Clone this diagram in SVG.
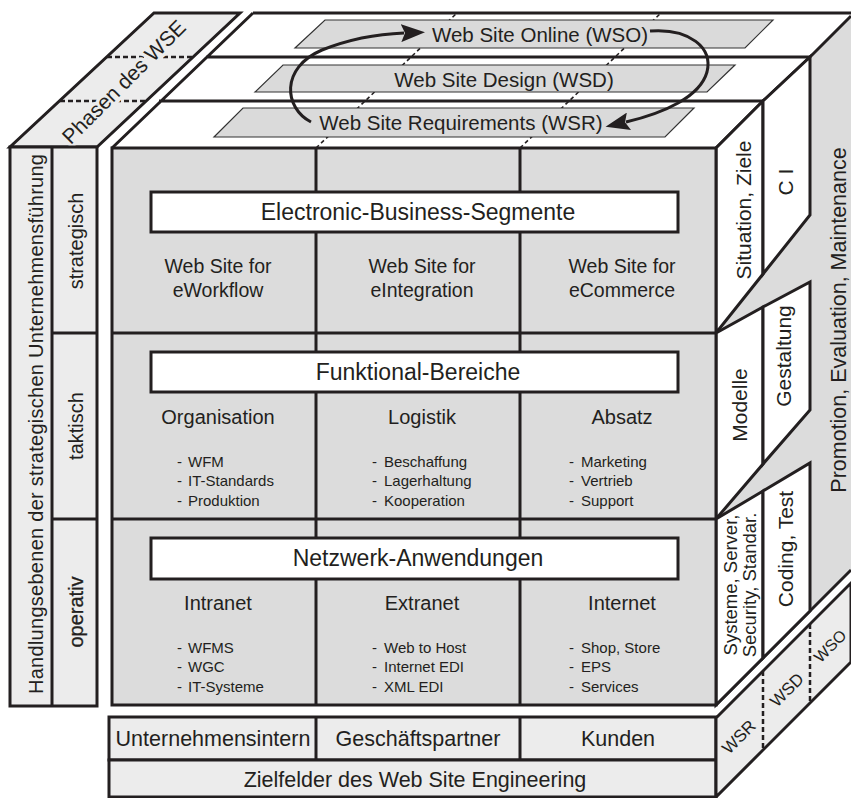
<svg xmlns="http://www.w3.org/2000/svg" width="851" height="798" viewBox="0 0 851 798">
<defs>
<style>
.ln{stroke:#231f20;stroke-width:3;fill:none}
.face{fill:#dcdcdc;stroke:#231f20;stroke-width:3}
.lite{fill:#ececec;stroke:#231f20;stroke-width:3}
.wht{fill:#fff;stroke:#231f20;stroke-width:3}
.plane{fill:#dadada;stroke:#333;stroke-width:1.2}
.dash{stroke:#231f20;stroke-width:1.6;stroke-dasharray:4 3;fill:none}
.bdash{stroke:#231f20;stroke-width:2.5;stroke-dasharray:5 3;fill:none}
text{font-family:"Liberation Sans",Arial,sans-serif;fill:#231f20}
.t23{font-size:23px;text-anchor:middle}
.t20{font-size:20px;text-anchor:middle}
.t19{font-size:19.5px;text-anchor:middle}
.t15{font-size:15px}
.t21{font-size:21px;text-anchor:middle}
.pl{font-size:20.5px;text-anchor:middle}
.halo{paint-order:stroke;stroke:#ececec;stroke-width:7px}
</style>
<marker id="ah" markerUnits="userSpaceOnUse" markerWidth="24" markerHeight="18" viewBox="0 0 24 18" refX="3" refY="9" orient="auto">
<path d="M0,0 L24,9 L0,18 L4,9 z" fill="#231f20"/>
</marker>
</defs>

<g id="top-face">
<path class="dash" d="M316,148 L457,13 M520,148 L661,13"/>
<path class="ln" d="M112,148 L253,13 M159,101 L763,101 M206,57 L810,57 M253,13 L851,13"/>
</g>

<g id="plane-wso"><polygon class="plane" points="325,20 773,20 745,48 295,48"/><text class="pl" x="540" y="42">Web Site Online (WSO)</text></g>
<g id="plane-wsd"><polygon class="plane" points="283,65 735,65 707,92 255,92"/><text class="pl" x="504" y="87">Web Site Design (WSD)</text></g>
<g id="plane-wsr"><polygon class="plane" points="243,108 694,108 665,137 214,137"/><text class="pl" x="461" y="130">Web Site Requirements (WSR)</text></g>

<g id="phasen">
<polygon class="lite" points="10,147 97,147 240,13 154,13"/>
<path class="bdash" d="M60,101 L146,101 M107,57 L193,57"/>
<text class="halo" style="font-size:21px;text-anchor:middle" transform="translate(129,87) rotate(-45)">Phasen des WSE</text>
</g>

<g id="handlungsebenen">
<rect class="lite" x="10" y="147" width="87" height="559"/>
<path class="ln" d="M52,147 L52,706 M52,333 L97,333 M52,519 L97,519"/>
<text class="t20" transform="translate(43,424) rotate(-90)" textLength="540">Handlungsebenen der strategischen Unternehmensführung</text>
<text class="t20" transform="translate(83,241) rotate(-90)">strategisch</text>
<text class="t20" transform="translate(83,426) rotate(-90)">taktisch</text>
<text class="t20" transform="translate(83,612) rotate(-90)" style="stroke:#231f20;stroke-width:0.3px">operativ</text>
</g>

<g id="side-face">
<polygon points="716,148 763,101 810,57 851,16 851,570 716,705" fill="#dcdcdc"/>
<path class="ln" d="M716,148 L763,101 L810,57 L851,16 M716,705 L851,570"/>
</g>
<g id="side-situation"><polygon class="wht" points="716,148 763,101 763,274 716,333"/><text class="t21" transform="translate(751,210) rotate(-90)">Situation, Ziele</text></g>
<g id="side-ci"><polygon class="wht" points="763,101 810,57 810,215 763,274"/><text class="t21" transform="translate(793,182) rotate(-90)">C I</text></g>
<g id="side-modelle"><polygon class="wht" points="716,333 763,307 763,464 716,519"/><text class="t21" transform="translate(747,405) rotate(-90)">Modelle</text></g>
<g id="side-gestaltung"><polygon class="wht" points="763,307 810,282 810,410 763,464"/><text class="t21" transform="translate(791,356) rotate(-90)">Gestaltung</text></g>
<g id="side-systeme"><polygon class="wht" points="716,519 763,491 763,658 716,705"/>
<text style="font-size:18.5px;text-anchor:middle" transform="translate(737,585) rotate(-90)">Systeme, Server,</text>
<text style="font-size:18.5px;text-anchor:middle" transform="translate(756,585) rotate(-90)">Security, Standar.</text></g>
<g id="side-coding"><polygon class="wht" points="763,491 810,463 810,611 763,658"/><text class="t21" transform="translate(793,549) rotate(-90)">Coding, Test</text></g>
<g id="side-promotion"><text style="font-size:21.5px;text-anchor:middle" transform="translate(846,320) rotate(-90)">Promotion, Evaluation, Maintenance</text></g>

<g id="front-face">
<rect class="face" x="112" y="148" width="604" height="557"/>
<path class="ln" d="M316,148 L316,705 M520,148 L520,705 M112,333 L716,333 M112,519 L716,519"/>
</g>

<g id="row-ebs">
<rect class="wht" x="151" y="192" width="527" height="40"/>
<text class="t23" x="418" y="220">Electronic-Business-Segmente</text>
<text class="t19" x="218" y="273">Web Site for</text><text class="t19" x="218" y="297">eWorkflow</text>
<text class="t19" x="422" y="273">Web Site for</text><text class="t19" x="422" y="297">eIntegration</text>
<text class="t19" x="622" y="273">Web Site for</text><text class="t19" x="622" y="297">eCommerce</text>
</g>

<g id="row-funktional">
<rect class="wht" x="151" y="352" width="527" height="40"/>
<text class="t23" x="418" y="380">Funktional-Bereiche</text>
<text class="t20" x="218" y="424">Organisation</text>
<text class="t20" x="422" y="424">Logistik</text>
<text class="t20" x="622" y="424">Absatz</text>
<g class="t15">
<text x="177" y="467">-</text><text x="188" y="467">WFM</text>
<text x="177" y="486">-</text><text x="188" y="486">IT-Standards</text>
<text x="177" y="506">-</text><text x="188" y="506">Produktion</text>
<text x="372" y="467">-</text><text x="384" y="467">Beschaffung</text>
<text x="372" y="486">-</text><text x="384" y="486">Lagerhaltung</text>
<text x="372" y="506">-</text><text x="384" y="506">Kooperation</text>
<text x="569" y="467">-</text><text x="581" y="467">Marketing</text>
<text x="569" y="486">-</text><text x="581" y="486">Vertrieb</text>
<text x="569" y="506">-</text><text x="581" y="506">Support</text>
</g>
</g>

<g id="row-netzwerk">
<rect class="wht" x="151" y="538" width="527" height="41"/>
<text class="t23" x="418" y="566">Netzwerk-Anwendungen</text>
<text class="t20" x="218" y="610">Intranet</text>
<text class="t20" x="422" y="610">Extranet</text>
<text class="t20" x="622" y="610">Internet</text>
<g class="t15">
<text x="177" y="653">-</text><text x="188" y="653">WFMS</text>
<text x="177" y="672">-</text><text x="188" y="672">WGC</text>
<text x="177" y="692">-</text><text x="188" y="692">IT-Systeme</text>
<text x="372" y="653">-</text><text x="384" y="653">Web to Host</text>
<text x="372" y="672">-</text><text x="384" y="672">Internet EDI</text>
<text x="372" y="692">-</text><text x="384" y="692">XML EDI</text>
<text x="569" y="653">-</text><text x="581" y="653">Shop, Store</text>
<text x="569" y="672">-</text><text x="581" y="672">EPS</text>
<text x="569" y="692">-</text><text x="581" y="692">Services</text>
</g>
</g>

<g id="zielfelder">
<rect class="lite" x="109" y="717" width="607" height="43"/>
<path class="ln" d="M316,717 L316,760 M520,717 L520,760"/>
<rect class="lite" x="109" y="760" width="607" height="37"/>
<text style="font-size:21.5px;text-anchor:middle" x="213" y="746">Unternehmensintern</text>
<text style="font-size:21.5px;text-anchor:middle" x="418" y="746">Geschäftspartner</text>
<text style="font-size:21.5px;text-anchor:middle" x="618" y="746">Kunden</text>
<text style="font-size:21.5px;text-anchor:middle" x="415" y="787">Zielfelder des Web Site Engineering</text>
</g>

<g id="phase-band">
<polygon class="lite" points="716,718 851,583 851,662 716,797"/>
<path class="bdash" d="M763,671 L763,750 M810,624 L810,703"/>
<text style="font-size:17px;text-anchor:middle" transform="translate(743,741) rotate(-45)">WSR</text>
<text style="font-size:17px;text-anchor:middle" transform="translate(791,694) rotate(-45)">WSD</text>
<text style="font-size:16px;text-anchor:middle" transform="translate(834,650) rotate(-45)">WSO</text>
</g>

<g id="connectors">
<path class="ln" d="M311,122 C284,108 280,68 322,50 C347,40 378,34 404,33" marker-end="url(#ah)"/>
<path class="ln" d="M650,31 C690,28 713,48 707,72 C700,97 664,113 626,122" marker-end="url(#ah)"/>
</g>
</svg>
